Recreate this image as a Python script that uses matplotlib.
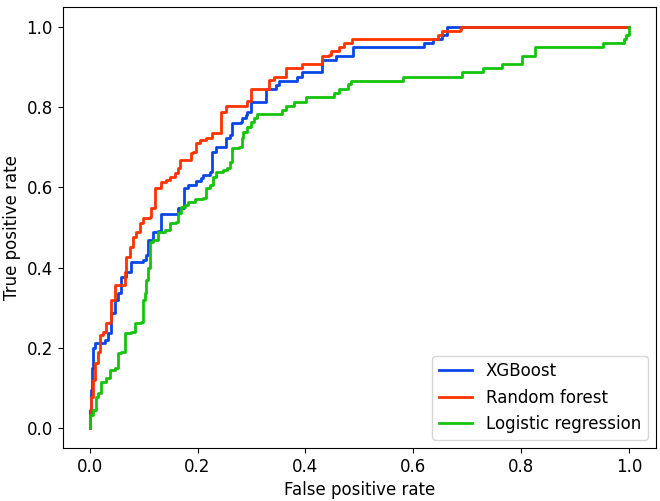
import matplotlib
matplotlib.use("Agg")
import matplotlib.pyplot as plt

xgb_fpr = [0, 0, 0.002, 0.004, 0.006, 0.009, 0.024, 0.028, 0.034, 0.039, 0.047, 0.052, 0.058, 0.067, 0.076,
           0.099, 0.104, 0.108, 0.118, 0.127, 0.132, 0.160, 0.164, 0.174, 0.183, 0.196, 0.198, 0.207, 0.211,
           0.224, 0.226, 0.235, 0.248, 0.252, 0.261, 0.263, 0.280, 0.282, 0.289, 0.291, 0.299, 0.300, 0.326,
           0.326, 0.341, 0.345, 0.351, 0.382, 0.384, 0.394, 0.429, 0.431, 0.457, 0.457, 0.487, 0.489, 0.618,
           0.619, 0.631, 0.636, 0.646, 0.653, 0.662, 0.662, 1.0]
xgb_tpr = [0, 0.045, 0.095, 0.15, 0.20, 0.212, 0.212, 0.219, 0.237, 0.287, 0.319, 0.337, 0.377, 0.389, 0.414,
           0.419, 0.431, 0.469, 0.489, 0.491, 0.534, 0.534, 0.549, 0.599, 0.606, 0.606, 0.616, 0.623, 0.631,
           0.638, 0.688, 0.701, 0.701, 0.723, 0.731, 0.761, 0.763, 0.773, 0.781, 0.788, 0.798, 0.813, 0.813,
           0.845, 0.845, 0.855, 0.865, 0.865, 0.875, 0.888, 0.888, 0.918, 0.918, 0.928, 0.928, 0.950, 0.950,
           0.960, 0.960, 0.970, 0.970, 0.980, 0.985, 1.0, 1.0]

rf_fpr = [0, 0, 0.002, 0.006, 0.009, 0.015, 0.019, 0.024, 0.030, 0.037, 0.039, 0.047, 0.062, 0.065, 0.067,
          0.075, 0.080, 0.086, 0.093, 0.099, 0.112, 0.114, 0.121, 0.131, 0.132, 0.142, 0.149, 0.159, 0.164,
          0.168, 0.179, 0.187, 0.192, 0.198, 0.205, 0.216, 0.226, 0.239, 0.243, 0.252, 0.289, 0.291, 0.300,
          0.300, 0.326, 0.332, 0.341, 0.360, 0.364, 0.394, 0.394, 0.429, 0.431, 0.444, 0.448, 0.459, 0.463,
          0.472, 0.487, 0.644, 0.646, 0.653, 0.687, 0.688, 1.0]
rf_tpr = [0, 0.032, 0.077, 0.12, 0.162, 0.19, 0.232, 0.239, 0.262, 0.264, 0.319, 0.357, 0.357, 0.389, 0.426,
          0.451, 0.476, 0.489, 0.511, 0.524, 0.526, 0.549, 0.599, 0.599, 0.613, 0.618, 0.626, 0.636, 0.648,
          0.668, 0.668, 0.686, 0.688, 0.711, 0.718, 0.723, 0.736, 0.736, 0.788, 0.803, 0.803, 0.815, 0.815,
          0.845, 0.845, 0.868, 0.875, 0.875, 0.898, 0.898, 0.908, 0.908, 0.928, 0.930, 0.940, 0.940, 0.950,
          0.960, 0.970, 0.970, 0.980, 0.990, 0.993, 1.0, 1.0]

lr_fpr = [0, 0, 0.006, 0.011, 0.015, 0.021, 0.030, 0.037, 0.047, 0.052, 0.058, 0.065, 0.076, 0.084, 0.095,
          0.099, 0.103, 0.104, 0.108, 0.112, 0.112, 0.118, 0.127, 0.140, 0.149, 0.160, 0.164, 0.170, 0.177,
          0.183, 0.196, 0.211, 0.216, 0.224, 0.229, 0.235, 0.248, 0.254, 0.261, 0.263, 0.276, 0.282, 0.285,
          0.291, 0.299, 0.304, 0.310, 0.354, 0.356, 0.364, 0.375, 0.379, 0.397, 0.401, 0.450, 0.453, 0.463,
          0.476, 0.478, 0.485, 0.580, 0.580, 0.690, 0.690, 0.729, 0.729, 0.765, 0.765, 0.799, 0.802, 0.823,
          0.826, 0.951, 0.951, 0.991, 0.991, 0.994, 1.0]
lr_tpr = [0, 0.032, 0.045, 0.077, 0.087, 0.115, 0.125, 0.145, 0.150, 0.187, 0.19, 0.237, 0.239, 0.262, 0.264,
          0.319, 0.337, 0.369, 0.399, 0.439, 0.464, 0.469, 0.489, 0.494, 0.511, 0.514, 0.536, 0.551, 0.556,
          0.564, 0.571, 0.574, 0.599, 0.606, 0.626, 0.638, 0.643, 0.648, 0.663, 0.698, 0.701, 0.723, 0.738,
          0.751, 0.763, 0.773, 0.783, 0.783, 0.793, 0.803, 0.803, 0.813, 0.813, 0.825, 0.825, 0.835, 0.845,
          0.845, 0.858, 0.865, 0.865, 0.875, 0.878, 0.888, 0.888, 0.898, 0.898, 0.908, 0.908, 0.928, 0.928,
          0.950, 0.950, 0.960, 0.960, 0.970, 0.980, 1.0]

labels = ["XGBoost", "Random forest", "Logistic regression"]
colors = ["#0a46e6", "#ff3300", "#14c30a"]

plt.rcParams['font.size'] = 12
fig, ax = plt.subplots(figsize=(6.6, 5.01), dpi=100)
for fx, ty, lab, c in zip([xgb_fpr, rf_fpr, lr_fpr], [xgb_tpr, rf_tpr, lr_tpr], labels, colors):
    ax.plot(fx, ty, color=c, lw=2, label=lab, drawstyle="steps-post")
ax.set_xlabel("False positive rate")
ax.set_ylabel("True positive rate")
ax.legend(loc="lower right")
fig.subplots_adjust(left=0.095, right=0.994, top=0.986, bottom=0.106)
fig.savefig("out.png", dpi=100)
